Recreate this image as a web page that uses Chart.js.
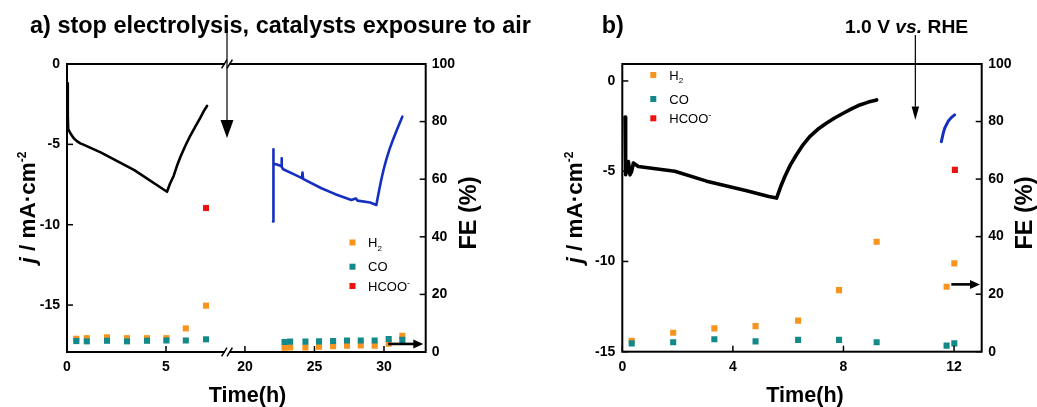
<!DOCTYPE html>
<html><head><meta charset="utf-8">
<script src="https://cdn.jsdelivr.net/npm/chart.js@4/dist/chart.umd.min.js"></script>
<style>
html,body{margin:0;padding:0;background:#fff;}
#wrap{position:relative;width:1037px;height:407px;overflow:hidden;background:#fff}
canvas{position:absolute;top:0}
</style>
</head><body>
<div id="wrap">
<canvas id="ca" width="540" height="407" style="left:0"></canvas>
<canvas id="cb" width="497" height="407" style="left:540px"></canvas>
</div>
<script>
const FONT = '"Liberation Sans", Arial, Helvetica, sans-serif';

// ---------- Panel a data ----------
const aEarlyTime = [0.03, 0.04, 0.06, 0.17, 0.34, 0.5, 0.67, 0.8, 1.7, 3.4, 5.05, 5.2, 5.39, 5.55, 5.72, 5.97, 6.23, 6.5, 6.73, 6.9, 7.07];
const aEarlyJ    = [-1.2, -3.2, -4.05, -4.31, -4.62, -4.8, -4.94, -5.0, -5.5, -6.6, -7.95, -7.45, -6.95, -6.35, -5.8, -5.1, -4.45, -3.85, -3.35, -2.95, -2.61];
const aLateTime  = [22.02, 22.03, 22.07, 22.3, 22.6, 22.63, 22.66, 22.75, 23.5, 24.1, 24.14, 24.18, 25.5, 26.5, 27.66, 27.97, 28.1, 29.0, 29.45, 29.62, 29.8, 29.98, 30.16, 30.4, 30.64, 30.98, 31.32];
const aLateJ     = [-9.8, -5.3, -6.2, -6.25, -6.35, -5.87, -6.4, -6.55, -6.85, -7.1, -6.76, -7.15, -7.73, -8.1, -8.46, -8.36, -8.5, -8.62, -8.77, -8.0, -7.22, -6.55, -5.97, -5.3, -4.73, -3.98, -3.28];

const aFeEarlyTime = [0.47, 1.0, 2.02, 3.03, 4.04, 5.02, 6.0, 7.02];
const aH2Early     = [4.6, 4.8, 5.1, 4.8, 4.8, 4.8, 8.2, 16.1];
const aCOEarly     = [3.8, 3.7, 3.9, 3.7, 3.9, 4.0, 4.0, 4.4];
const aFeLateTime  = [22.85, 23.25, 24.35, 25.33, 26.34, 27.34, 28.33, 29.33, 30.34, 31.32];
const aH2Late      = [1.5, 1.6, 1.6, 1.8, 2.0, 2.2, 2.3, 2.2, 2.9, 5.6];
const aCOLate      = [3.5, 3.6, 3.6, 3.7, 3.8, 4.0, 4.0, 4.0, 4.5, 4.2];
const aHCOOTime    = [7.02];
const aHCOO        = [50];

const aXTicksEarly = [0, 5];
const aXTicksLate  = [20, 25, 30];
const aJTicks      = [-15, -10, -5, 0];
const feTicks      = [0, 20, 40, 60, 80, 100];

// ---------- Panel b data ----------
const bBlackTime = [0.1, 0.12, 0.17, 0.22, 0.28, 0.34, 0.4, 0.58, 1.9, 3.05, 4.5, 5.3, 5.58, 5.73, 5.88, 6.08, 6.3, 6.53, 6.78, 7.07, 7.38, 7.68, 7.99, 8.29, 8.59, 8.9, 9.2];
const bBlackJ    = [-2.0, -5.2, -4.9, -4.46, -5.2, -5.0, -4.55, -4.74, -5.0, -5.55, -6.08, -6.4, -6.49, -5.85, -5.29, -4.65, -4.09, -3.55, -3.08, -2.68, -2.34, -2.05, -1.79, -1.55, -1.33, -1.17, -1.05];
const bBlueTime  = [11.54, 11.6, 11.66, 11.8, 11.92, 12.02];
const bBlueJ     = [-3.36, -2.95, -2.62, -2.2, -2.0, -1.88];

const bFeTime  = [0.34, 1.84, 3.33, 4.82, 6.36, 7.84, 9.2, 11.73, 12.01];
const bH2      = [3.8, 6.6, 8.1, 8.9, 10.8, 21.4, 38.2, 22.6, 30.7];
const bCO      = [2.9, 3.3, 4.3, 3.6, 4.1, 4.1, 3.3, 2.1, 2.9];
const bHCOOTime = [12.03];
const bHCOO     = [63.2];

const bXTicks = [0, 4, 8, 12];
const bJTicks = [-15, -10, -5, 0];

// annotation anchors (data units)
const bArrowTime = 10.6;

const COL = { h2: '#F7941E', co: '#14898A', hcoo: '#EE1111', black: '#000000', blue: '#1530C0' };

const pts = (xs, ys) => xs.map((x, i) => ({ x, y: ys[i] }));

function lineDs(label, xs, ys, color, width, xAxisID) {
  return { label, data: pts(xs, ys), showLine: true, borderColor: color, backgroundColor: color,
    borderWidth: width, pointRadius: 0, pointHoverRadius: 0, tension: 0, xAxisID, yAxisID: 'y',
    borderJoinStyle: 'round', borderCapStyle: 'round' };
}
function markDs(label, xs, ys, color, xAxisID) {
  return { label, data: pts(xs, ys), showLine: false, pointStyle: 'rect', pointRadius: 4.3,
    pointHoverRadius: 4.3, backgroundColor: color, borderColor: color, borderWidth: 0,
    xAxisID, yAxisID: 'y2' };
}

const tickFont = { family: FONT, size: 14, weight: 'bold' };
function axis(opts, ticksArr, pad, fitSize) {
  return Object.assign({
    type: 'linear',
    grid: { display: false, drawTicks: false, tickLength: 0 },
    border: { display: false },
    ticks: { color: '#000', font: tickFont, padding: pad, autoSkip: false, maxRotation: 0,
      callback: v => String(v) },
    afterBuildTicks: s => { s.ticks = ticksArr.map(v => ({ value: v })); },
    afterFit: s => { if (s.isHorizontal()) s.height = fitSize; else s.width = fitSize; }
  }, opts);
}

// ---------- drawing helpers ----------
function richWidth(ctx, parts) {
  let w = 0;
  for (const p of parts) { ctx.font = p.font; w += ctx.measureText(p.t).width; }
  return w;
}
function drawRich(ctx, parts, x, y, align) {
  const w = richWidth(ctx, parts);
  let cx = align === 'center' ? x - w / 2 : align === 'right' ? x - w : x;
  ctx.textAlign = 'left'; ctx.textBaseline = 'alphabetic';
  for (const p of parts) {
    ctx.font = p.font; ctx.fillStyle = p.color || '#000';
    ctx.fillText(p.t, cx, y + (p.dy || 0));
    cx += ctx.measureText(p.t).width;
  }
}
function drawRotated(ctx, parts, cx, cy, size) {
  ctx.save(); ctx.translate(cx, cy); ctx.rotate(-Math.PI / 2);
  drawRich(ctx, parts, 0, size * 0.36, 'center');
  ctx.restore();
}
function fitSize(ctx, mk, target, start) {
  const w = richWidth(ctx, mk(start));
  return start * target / w;
}
function frame(ctx, a) {
  ctx.save(); ctx.strokeStyle = '#000'; ctx.lineWidth = 2;
  ctx.strokeRect(a.left, a.top, a.right - a.left, a.bottom - a.top);
  ctx.restore();
}
function inwardTicks(chart) {
  const ctx = chart.ctx, a = chart.chartArea;
  ctx.save(); ctx.strokeStyle = '#000'; ctx.lineWidth = 1.5;
  for (const s of Object.values(chart.scales)) {
    for (const t of s.ticks) {
      const p = s.getPixelForValue(t.value);
      ctx.beginPath();
      if (s.isHorizontal()) { ctx.moveTo(p, a.bottom); ctx.lineTo(p, a.bottom - 6); }
      else if (s.position === 'left') { ctx.moveTo(a.left, p); ctx.lineTo(a.left + 6, p); }
      else { ctx.moveTo(a.right, p); ctx.lineTo(a.right - 6, p); }
      ctx.stroke();
    }
  }
  ctx.restore();
}
function breakMark(ctx, x, y) {
  ctx.save();
  ctx.fillStyle = '#fff'; ctx.fillRect(x - 2.2, y - 2, 4.4, 4);
  ctx.strokeStyle = '#000'; ctx.lineWidth = 1.5;
  for (const dx of [-2.7, 2.7]) {
    ctx.beginPath(); ctx.moveTo(x + dx - 2.7, y + 4.3); ctx.lineTo(x + dx + 2.7, y - 4.3); ctx.stroke();
  }
  ctx.restore();
}
function downArrow(ctx, x, y0, yTip, headH, headW) {
  ctx.save(); ctx.strokeStyle = '#000'; ctx.fillStyle = '#000'; ctx.lineWidth = 1.2;
  ctx.beginPath(); ctx.moveTo(x, y0); ctx.lineTo(x, yTip - headH); ctx.stroke();
  ctx.beginPath(); ctx.moveTo(x - headW / 2, yTip - headH); ctx.lineTo(x + headW / 2, yTip - headH);
  ctx.lineTo(x, yTip); ctx.closePath(); ctx.fill();
  ctx.restore();
}
function rightArrow(ctx, x0, xTip, y) {
  ctx.save(); ctx.strokeStyle = '#000'; ctx.fillStyle = '#000'; ctx.lineWidth = 2.6;
  ctx.beginPath(); ctx.moveTo(x0, y); ctx.lineTo(xTip - 8, y); ctx.stroke();
  ctx.beginPath(); ctx.moveTo(xTip - 10, y - 4.5); ctx.lineTo(xTip, y); ctx.lineTo(xTip - 10, y + 4.5);
  ctx.closePath(); ctx.fill();
  ctx.restore();
}
function legend(ctx, chart, mx, tx, rows) {
  const find = l => chart.data.datasets.find(d => d.label === l);
  const items = [
    { ds: find('H2'), parts: [{ t: 'H', font: '13px ' + FONT }, { t: '2', font: '8px ' + FONT, dy: 3.5 }] },
    { ds: find('CO'), parts: [{ t: 'CO', font: '13px ' + FONT }] },
    { ds: find('HCOO-'), parts: [{ t: 'HCOO', font: '13px ' + FONT }, { t: '-', font: '9px ' + FONT, dy: -5 }] }
  ];
  items.forEach((it, i) => {
    ctx.fillStyle = it.ds.backgroundColor;
    ctx.fillRect(mx - 3, rows[i] - 3, 6, 6);
    drawRich(ctx, it.parts, tx, rows[i] + 4.7, 'left');
  });
}
function jLabelParts(s) {
  return [{ t: 'j', font: 'italic bold ' + s + 'px ' + FONT },
          { t: ' / mA\u00B7cm', font: 'bold ' + s + 'px ' + FONT },
          { t: '-2', font: 'bold ' + Math.round(s * 0.55) + 'px ' + FONT, dy: -s * 0.42 }];
}
const feParts = [{ t: 'FE (%)', font: 'bold 23.5px ' + FONT }];
const timeParts = [{ t: 'Time(h)', font: 'bold 21.6px ' + FONT }];

// ---------- Panel a ----------
const decorA = {
  id: 'decorA',
  afterDraw(chart) {
    const ctx = chart.ctx, a = chart.chartArea, x1 = chart.scales.x1, x2 = chart.scales.x2, y2 = chart.scales.y2;
    frame(ctx, a);
    inwardTicks(chart);
    const bx = x1.right;
    breakMark(ctx, bx, a.top); breakMark(ctx, bx, a.bottom);
    const mk = s => [{ t: 'a) stop electrolysis, catalysts exposure to air', font: 'bold ' + s + 'px ' + FONT }];
    const ts = fitSize(ctx, mk, 501, 22);
    drawRich(ctx, mk(ts), 30, 33, 'left');
    downArrow(ctx, bx, 28, 138, 18, 13);
    rightArrow(ctx, x2.getPixelForValue(30.3), a.right - 2.4, y2.getPixelForValue(2.8));
    drawRotated(ctx, jLabelParts(22.5), 27, 207.5, 22.5);
    drawRotated(ctx, feParts, 467.5, 213, 23.5);
    drawRich(ctx, timeParts, 247.5, 402, 'center');
    legend(ctx, chart, 352.5, 368, [242.5, 266.7, 286]);
  }
};

new Chart(document.getElementById('ca'), {
  type: 'scatter',
  data: { datasets: [
    markDs('HCOO-', aHCOOTime, aHCOO, COL.hcoo, 'x1'),
    markDs('CO', aFeEarlyTime, aCOEarly, COL.co, 'x1'),
    markDs('H2', aFeEarlyTime, aH2Early, COL.h2, 'x1'),
    markDs('CO late', aFeLateTime, aCOLate, COL.co, 'x2'),
    markDs('H2 late', aFeLateTime, aH2Late, COL.h2, 'x2'),
    lineDs('j before', aEarlyTime, aEarlyJ, COL.black, 2.6, 'x1'),
    lineDs('j after', aLateTime, aLateJ, COL.blue, 2.6, 'x2')
  ]},
  options: {
    responsive: false, animation: false, devicePixelRatio: 1,
    layout: { padding: { top: 64, left: 0, right: 0, bottom: 0 } },
    plugins: { legend: { display: false }, tooltip: { enabled: false }, title: { display: false } },
    events: [],
    scales: {
      x1: axis({ position: 'bottom', min: 0, max: 8.08, stack: 'time', stackWeight: 160 }, aXTicksEarly, 7, 55),
      x2: axis({ position: 'bottom', min: 18.71, max: 33, stack: 'time', stackWeight: 198.7 }, aXTicksLate, 7, 55),
      y:  axis({ position: 'left', min: -17.92, max: 0 }, aJTicks, 7, 67),
      y2: axis({ position: 'right', min: 0, max: 100 }, feTicks, 6, 114.3)
    }
  },
  plugins: [decorA]
});

// ---------- Panel b ----------
const decorB = {
  id: 'decorB',
  afterDraw(chart) {
    const ctx = chart.ctx, a = chart.chartArea, x = chart.scales.x, y2 = chart.scales.y2;
    frame(ctx, a);
    inwardTicks(chart);
    const mkB = s => [{ t: 'b)', font: 'bold ' + s + 'px ' + FONT }];
    drawRich(ctx, mkB(23.4), 61.7, 33, 'left');
    const mk = s => [{ t: '1.0 V ', font: 'bold ' + s + 'px ' + FONT },
                     { t: 'vs.', font: 'italic bold ' + s + 'px ' + FONT },
                     { t: ' RHE', font: 'bold ' + s + 'px ' + FONT }];
    const ts = fitSize(ctx, mk, 123.3, 19);
    drawRich(ctx, mk(ts), 305, 33, 'left');
    downArrow(ctx, x.getPixelForValue(bArrowTime), 35, 120, 13.5, 7.5);
    rightArrow(ctx, x.getPixelForValue(11.9), a.right - 1.7, y2.getPixelForValue(23.4));
    drawRotated(ctx, jLabelParts(22.5), 34, 207.5, 22.5);
    drawRotated(ctx, feParts, 484, 213, 23.5);
    drawRich(ctx, timeParts, 265, 402, 'center');
    legend(ctx, chart, 113.3, 129.3, [75, 99, 118.3]);
  }
};

new Chart(document.getElementById('cb'), {
  type: 'scatter',
  data: { datasets: [
    markDs('HCOO-', bHCOOTime, bHCOO, COL.hcoo, 'x'),
    markDs('CO', bFeTime, bCO, COL.co, 'x'),
    markDs('H2', bFeTime, bH2, COL.h2, 'x'),
    lineDs('j 1', bBlackTime, bBlackJ, COL.black, 3.6, 'x'),
    lineDs('j 2', bBlueTime, bBlueJ, COL.blue, 3.0, 'x')
  ]},
  options: {
    responsive: false, animation: false, devicePixelRatio: 1,
    layout: { padding: { top: 64, left: 0, right: 0, bottom: 0 } },
    plugins: { legend: { display: false }, tooltip: { enabled: false }, title: { display: false } },
    events: [],
    scales: {
      x:  axis({ position: 'bottom', min: 0, max: 13 }, bXTicks, 7, 55.3),
      y:  axis({ position: 'left', min: -15, max: 0.94 }, bJTicks, 7, 82.3),
      y2: axis({ position: 'right', min: 0, max: 100 }, feTicks, 6.6, 55.3)
    }
  },
  plugins: [decorB]
});
</script>
</body></html>
